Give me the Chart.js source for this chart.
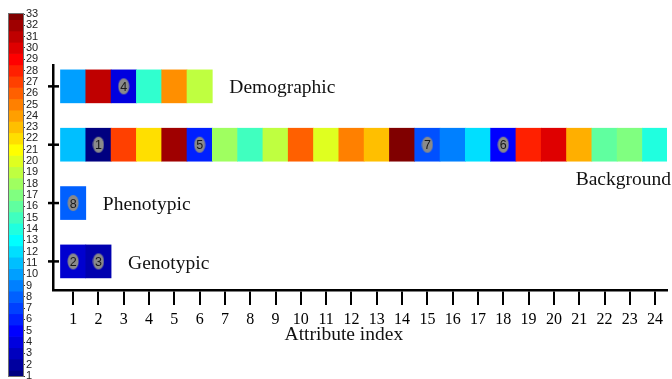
<!DOCTYPE html>
<html>
<head>
<meta charset="utf-8">
<script src="https://cdn.jsdelivr.net/npm/chart.js@4.4.0/dist/chart.umd.min.js"></script>
<style>
  html, body { margin: 0; padding: 0; background: #fff; }
  #wrap { position: relative; width: 672px; height: 379px; }
  canvas { position: absolute; left: 0; top: 0; }
</style>
</head>
<body>
<div id="wrap">
  <canvas id="main" width="672" height="379"></canvas>
  <canvas id="bar" width="48" height="379"></canvas>
</div>
<script>
// rows, bottom to top
const rowNames = ['Genotypic', 'Phenotypic', 'Background', 'Demographic'];
const rowPos = [1, 2, 3, 4];

// colour value of every cell, attribute index 1..n
const genotypic = [3.5, 2.5];
const phenotypic = [8];
const background = [11, 1, 27, 22, 32, 6, 18, 15, 19, 26, 20, 25, 23, 33, 7.5, 9, 12, 5, 28, 30, 23.5, 16, 17, 14];
const demographic = [10, 31, 4, 14.5, 24.5, 19];

// numbered markers: attribute index, row, number
const markCol = [2, 1, 2, 3, 6, 18, 15, 1];
const markRow = [3, 1, 1, 4, 3, 3, 3, 2];
const markNum = ['1', '2', '3', '4', '5', '6', '7', '8'];

// colour bar ticks
const cbTicks = [1, 2, 3, 4, 5, 6, 7, 8, 9, 10, 11, 12, 13, 14, 15, 16, 17, 18, 19, 20, 21, 22, 23, 24, 25, 26, 27, 28, 29, 30, 31, 32, 33];

function jet(v) {
    const t = (v - 1) / 32;
    const c = x => Math.round(255 * Math.min(1, Math.max(0, x)));
    return `rgb(${c(1.5 - Math.abs(4 * t - 3))},${c(1.5 - Math.abs(4 * t - 2))},${c(1.5 - Math.abs(4 * t - 1))})`;
}

const serif = '"Liberation Serif", "Times New Roman", serif';
const sans = '"Liberation Sans", Arial, sans-serif';
const narrow = '"Liberation Sans Narrow", "Liberation Sans", Arial, sans-serif';

// grey ellipse used as point style
const dot = document.createElement('canvas');
dot.width = 12; dot.height = 18;
{
    const c = dot.getContext('2d');
    c.fillStyle = '#8a8a8a';
    c.beginPath();
    c.ellipse(6, 9, 5.5, 8, 0, 0, Math.PI * 2);
    c.fill();
}

const rows = [genotypic, phenotypic, background, demographic];

let datasets = rows.map((vals, r) => ({
    type: 'bar',
    indexAxis: 'y',
    data: vals.map((v, i) => ({ x: [i + 0.5, i + 1.5], y: rowPos[r] })),
    backgroundColor: vals.map(jet),
    borderWidth: 0,
    barThickness: 33,
    grouped: false,
    clip: 0,
    order: 1
}));

datasets.push({
    type: 'scatter',
    data: markCol.map((c, i) => ({ x: c, y: markRow[i] })),
    pointStyle: dot,
    order: 0
});

const decorate = {
    id: 'decorate',
    afterDatasetsDraw(chart) {
        const ctx = chart.ctx;
        const xs = chart.scales.x, ys = chart.scales.y;
        ctx.save();

        // numbers in the markers
        const meta = chart.getDatasetMeta(datasets.length - 1);
        ctx.font = '12.5px ' + sans;
        ctx.fillStyle = '#1a1a1a';
        ctx.textAlign = 'center';
        ctx.textBaseline = 'middle';
        meta.data.forEach((pt, i) => ctx.fillText(markNum[i], pt.x, pt.y + 1));

        // ticks crossing the y axis
        ctx.strokeStyle = '#000';
        ctx.lineWidth = 2.5;
        rowPos.forEach(p => {
            const y = ys.getPixelForValue(p);
            ctx.beginPath();
            ctx.moveTo(xs.left - 5, y);
            ctx.lineTo(xs.left + 6, y);
            ctx.stroke();
        });

        // row names
        ctx.font = '19.5px ' + serif;
        ctx.fillStyle = '#111';
        rows.forEach((vals, r) => {
            const y = ys.getPixelForValue(rowPos[r]);
            if (rowNames[r] === 'Background') {
                ctx.textAlign = 'right';
                ctx.fillText(rowNames[r], chart.width - 1, y + 35);
            } else {
                ctx.textAlign = 'left';
                ctx.fillText(rowNames[r], xs.getPixelForValue(vals.length + 0.5) + 17, y + 2);
            }
        });

        // axis title
        ctx.textAlign = 'center';
        ctx.fillText('Attribute index', xs.getPixelForValue(11.7), 335);
        ctx.restore();
    }
};

new Chart(document.getElementById('main'), {
    type: 'bar',
    data: { datasets },
    options: {
        responsive: false,
        animation: false,
        events: [],
        layout: { padding: { top: 65, left: 0, right: 0, bottom: 0 } },
        plugins: { legend: { display: false }, tooltip: { enabled: false } },
        scales: {
            x: {
                type: 'linear',
                offset: false,
                min: 0.204,
                max: 24.47,
                afterFit: s => { s.height = 89; s.paddingRight = 0; s.paddingLeft = 0; },
                ticks: {
                    stepSize: 1,
                    includeBounds: false,
                    padding: 5,
                    color: '#000',
                    font: { family: serif, size: 16 }
                },
                grid: { offset: false, drawOnChartArea: false, tickLength: 15, lineWidth: 2, color: '#000' },
                border: { width: 2.5, color: '#000' }
            },
            y: {
                type: 'linear',
                offset: false,
                min: 0.51,
                max: 4.366,
                afterFit: s => { s.width = 53; },
                ticks: { display: false },
                grid: { display: false, offset: false },
                border: { width: 2.5, color: '#000' }
            }
        }
    },
    plugins: [decorate]
});

// colour bar
const outline = {
    id: 'outline',
    afterDatasetsDraw(chart) {
        const a = chart.chartArea, ctx = chart.ctx;
        ctx.save();
        ctx.strokeStyle = '#707070';
        ctx.lineWidth = 1;
        ctx.strokeRect(a.left - 0.5, a.top - 0.5, a.right - a.left + 1, a.bottom - a.top + 1);
        ctx.restore();
    }
};

new Chart(document.getElementById('bar'), {
    type: 'bar',
    data: {
        labels: cbTicks,
        datasets: [{
            data: cbTicks.map(() => [0, 1]),
            backgroundColor: cbTicks.map(jet),
            borderWidth: 0,
            barPercentage: 1,
            categoryPercentage: 1,
            clip: 0
        }]
    },
    options: {
        indexAxis: 'y',
        responsive: false,
        animation: false,
        events: [],
        layout: { padding: { left: 9, top: 14, bottom: 0, right: 0 } },
        plugins: { legend: { display: false }, tooltip: { enabled: false } },
        scales: {
            x: { type: 'linear', min: 0, max: 1, display: false },
            y: {
                type: 'category',
                position: 'right',
                reverse: true,
                offset: false,
                afterFit: s => { s.width = 25; s.paddingTop = 0; s.paddingBottom = 3; },
                grid: { offset: false, drawOnChartArea: false, tickLength: 2, color: '#333' },
                border: { display: false },
                ticks: { autoSkip: false, padding: 1, color: '#222', font: { family: narrow, size: 11 } }
            }
        }
    },
    plugins: [outline]
});
</script>
</body>
</html>
